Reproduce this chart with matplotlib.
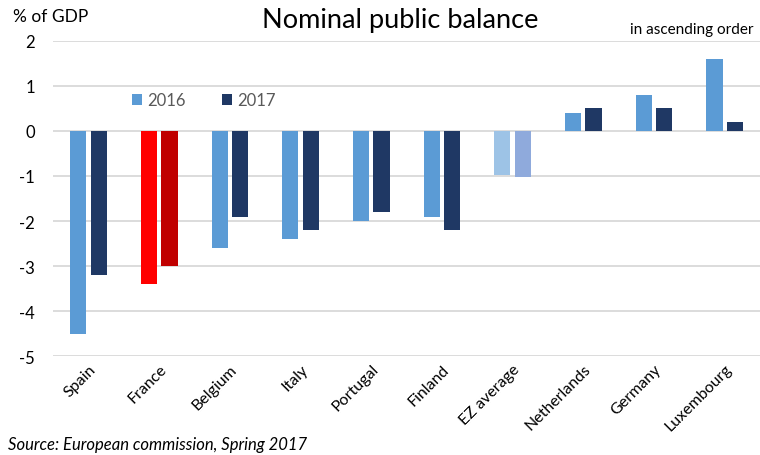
import numpy as np
import matplotlib
matplotlib.use("Agg")
import matplotlib.pyplot as plt
from matplotlib.ticker import FuncFormatter

plt.rcParams['font.family'] = ['Lato', 'DejaVu Sans']

countries = ["Spain", "France", "Belgium", "Italy", "Portugal", "Finland",
             "EZ average", "Netherlands", "Germany", "Luxembourg"]
bal_2016 = [-4.5, -3.4, -2.6, -2.4, -2.0, -1.9, -0.98, 0.4, 0.8, 1.6]
bal_2017 = [-3.2, -3.0, -1.9, -2.2, -1.8, -2.2, -1.02, 0.5, 0.5, 0.2]

c16 = ["#5B9BD5"] * 10
c17 = ["#1F3864"] * 10
c16[1], c17[1] = "#FF0000", "#C00000"   # France
c16[6], c17[6] = "#9DC3E6", "#8FAADC"   # EZ average

fig = plt.figure(figsize=(7.6, 4.56), dpi=100)
ax = fig.add_axes([0.07, 0.217, 0.93, 0.691])

x = np.arange(len(countries))
w = 0.23
ax.bar(x - 0.145, bal_2016, w, color=c16, label="2016", zorder=3)
ax.bar(x + 0.145, bal_2017, w, color=c17, label="2017", zorder=3)

ax.set_xlim(-0.5, len(countries) - 0.5)
ax.set_ylim(-5, 2)
ax.set_yticks(range(-5, 3))
ax.yaxis.set_major_formatter(FuncFormatter(lambda v, p: "%d" % v))
ax.yaxis.grid(True, color="#D9D9D9", linewidth=1.3, zorder=0)
for s in ax.spines.values():
    s.set_visible(False)
ax.tick_params(axis="both", length=0, labelsize=12, colors="#000000")
ax.tick_params(axis="y", pad=13)
ax.set_xticks(x)
ax.set_xticklabels(countries, rotation=45, ha="right", rotation_mode="anchor",
                   fontsize=11.5)
ax.tick_params(axis="x", pad=4)

leg = ax.legend(loc="upper left", bbox_to_anchor=(0.09, 0.885), ncol=2,
                frameon=False, fontsize=12, handlelength=0.6, handleheight=0.6,
                columnspacing=2.2, handletextpad=0.3)
for t in leg.get_texts():
    t.set_color("#595959")

fig.text(0.017, 0.963, "% of GDP", fontsize=12.5, va="center")
fig.text(0.527, 0.955, "Nominal public balance", fontsize=19.5, ha="center", va="center")
fig.text(0.992, 0.935, "in ascending order", fontsize=11, ha="right", va="center")
fig.text(0.01, 0.024, "Source: European commission, Spring 2017", fontsize=12,
         style="italic", va="center")

fig.savefig("out.png", dpi=100)
